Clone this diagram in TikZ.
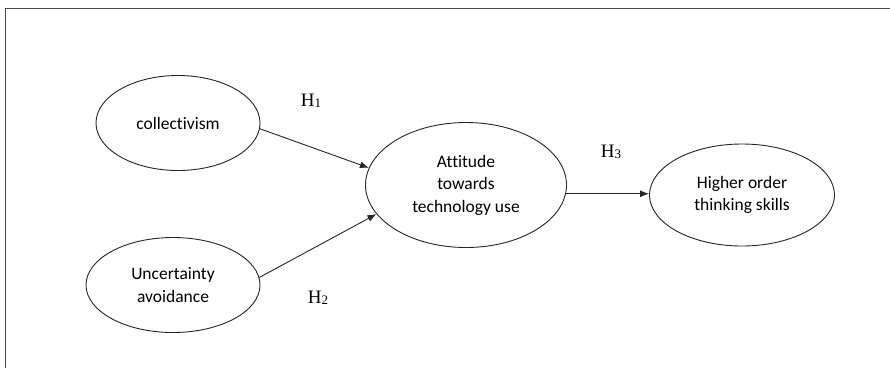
\documentclass[tikz,border=0pt]{standalone}
\usepackage{fontspec}
\setmainfont{Carlito}[Ligatures=NoCommon]
\newfontfamily\hfont{Liberation Serif}
\usetikzlibrary{shapes.geometric, arrows.meta, positioning}

\begin{document}
\begin{tikzpicture}[x=1pt, y=-1pt]

        % Define styles for the constructs and the paths
        \tikzstyle{construct} = [ellipse, draw=black!85, line width=0.9pt, inner sep=0pt, align=center, font=\fontsize{17.5}{22.5}\selectfont]
        \tikzstyle{hyp} = [font=\hfont\fontsize{19}{19}\selectfont, inner sep=0pt]
        \tikzstyle{arrow} = [line width=0.9pt, draw=black!85, -{Latex[length=9pt, width=7pt]}]

        \useasboundingbox (0,0) rectangle (890,368);

        % Frame (left and top only)
        \draw[line width=1.6pt, black!70] (5.5,368) -- (5.5,8.5) -- (890,8.5);

        % Nodes
        \node (coll) [construct, minimum width=164pt, minimum height=95pt] at (178,123) {collectivism};
        \node (unc) [construct, minimum width=174pt, minimum height=95pt] at (173,285) {Uncertainty\\avoidance};
        \node (att) [construct, minimum width=201pt, minimum height=125pt] at (466,185) {Attitude\\towards\\technology use};
        \node (hos) [construct, minimum width=185pt, minimum height=102pt] at (742,195) {Higher order\\thinking skills};

        % Hypothesis labels
        \node (h1) [hyp] at (311,101) {H\raisebox{-1.5pt}{\fontsize{13}{13}\selectfont 1}};
        \node (h2) [hyp] at (318,298) {H\raisebox{-1.5pt}{\fontsize{13}{13}\selectfont 2}};
        \node (h3) [hyp] at (611,152) {H\raisebox{-1.5pt}{\fontsize{13}{13}\selectfont 3}};

        % Arrows
        \draw [arrow] (coll.-4) -- (att.170);
        \draw [arrow] (unc.5) -- (att.198);
        \draw [arrow] (att.-5) -- (att.-5 -| hos.west);

    \end{tikzpicture}
\end{document}
